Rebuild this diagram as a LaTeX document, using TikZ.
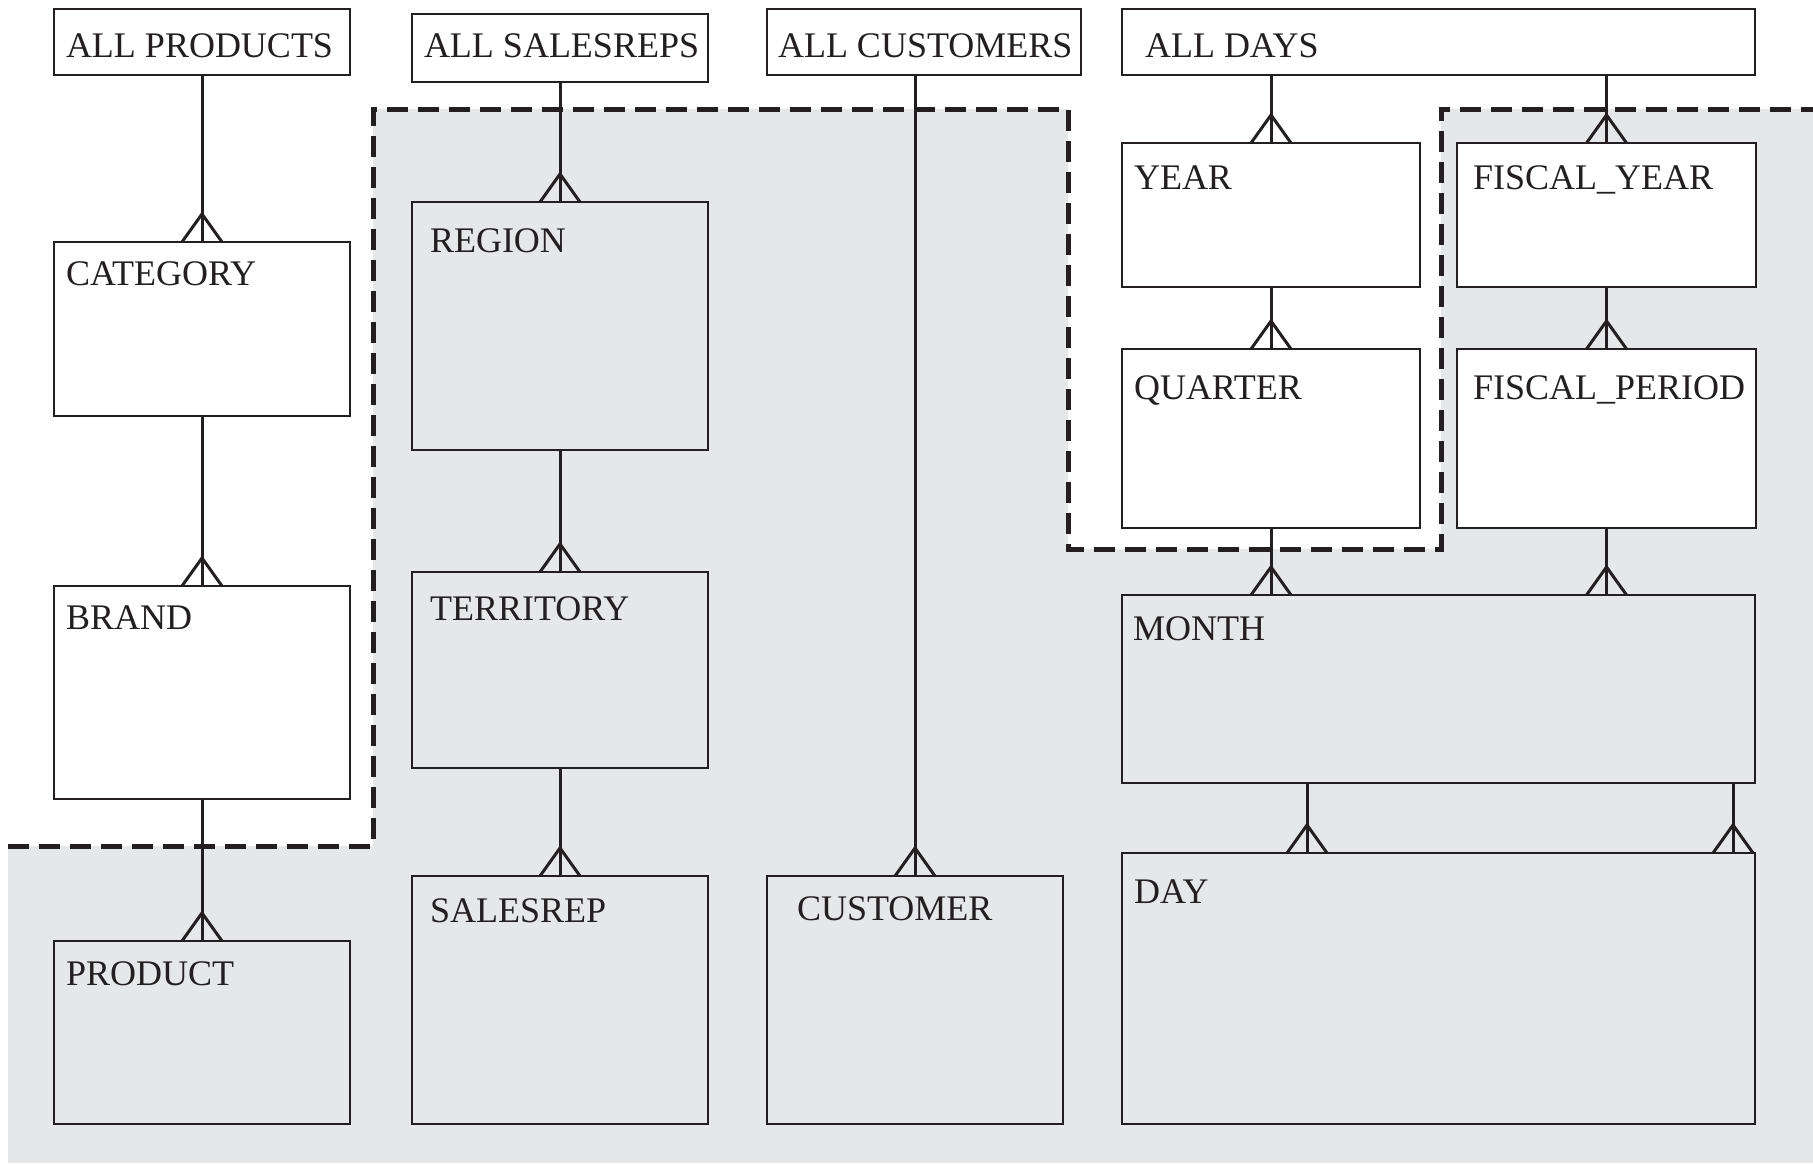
\documentclass[tikz,border=0pt]{standalone}
\usepackage{fontspec}
\setmainfont{Liberation Serif}
\usetikzlibrary{fit,calc}
\definecolor{ink}{RGB}{35,31,32}
\definecolor{greyfill}{RGB}{230,231,232}
\newcommand{\crowfoot}[1]{\draw[conn] ($#1+(-20,0)$) -- ($#1+(0,-28)$) -- ($#1+(20,0)$);}
\begin{document}
\begin{tikzpicture}[x=0.5pt,y=-0.5pt,
  box/.style={draw=ink, line width=1.2pt, inner sep=0pt, outer sep=0pt, rectangle},
  wbox/.style={box, fill=white},
  gbox/.style={box, fill=greyfill},
  lbl/.style={inner sep=0pt, outer sep=0pt, anchor=base west, text=ink, font=\fontsize{18}{20}\selectfont},
  conn/.style={draw=ink, line width=1.5pt},
  bound/.style={draw=ink, line width=2.5pt, dash pattern=on 10.5pt off 5pt}
]
\useasboundingbox (0,0) rectangle (1813,1163);
% shaded region
\fill[greyfill] (8,846) -- (373,846) -- (373,109) -- (1068,109) -- (1068,549) -- (1441,549) -- (1441,109) -- (1813,109) -- (1813,1163) -- (8,1163) -- cycle;
\draw[bound] (8,846) -- (373,846) -- (373,109) -- (1068,109) -- (1068,549) -- (1441,549) -- (1441,109) -- (1813,109);
% products
\node[wbox, fit={(54,9)(350,75)}] (allprod) {};
\node[lbl] (allprod-t) at (66,57) {ALL PRODUCTS};
\node[wbox, fit={(54,242)(350,416)}] (cat) {};
\node[lbl] (cat-t) at (66,285) {CATEGORY};
\node[wbox, fit={(54,586)(350,799)}] (brand) {};
\node[lbl] (brand-t) at (66,629) {BRAND};
\node[gbox, fit={(54,941)(350,1124)}] (prod) {};
\node[lbl] (prod-t) at (66,985) {PRODUCT};
% salesreps
\node[wbox, fit={(412,14)(708,82)}] (allsr) {};
\node[lbl] (allsr-t) at (424,57) {ALL SALESREPS};
\node[gbox, fit={(412,202)(708,450)}] (region) {};
\node[lbl] (region-t) at (430,252) {REGION};
\node[gbox, fit={(412,572)(708,768)}] (terr) {};
\node[lbl] (terr-t) at (430,620) {TERRITORY};
\node[gbox, fit={(412,876)(708,1124)}] (srep) {};
\node[lbl] (srep-t) at (430,922) {SALESREP};
% customers
\node[wbox, fit={(767,9)(1081,75)}] (allcust) {};
\node[lbl] (allcust-t) at (778,57) {ALL CUSTOMERS};
\node[gbox, fit={(767,876)(1063,1124)}] (cust) {};
\node[lbl] (cust-t) at (797,920) {CUSTOMER};
% days
\node[wbox, fit={(1122,9)(1755,75)}] (alldays) {};
\node[lbl] (alldays-t) at (1145,57) {ALL DAYS};
\node[wbox, fit={(1122,143)(1420,287)}] (year) {};
\node[lbl] (year-t) at (1134,189) {YEAR};
\node[wbox, fit={(1457,143)(1756,287)}] (fyear) {};
\node[lbl] (fyear-t) at (1473,189) {FISCAL\_YEAR};
\node[wbox, fit={(1122,349)(1420,528)}] (quarter) {};
\node[lbl] (quarter-t) at (1134,399) {QUARTER};
\node[wbox, fit={(1457,349)(1756,528)}] (fperiod) {};
\node[lbl] (fperiod-t) at (1473,399) {FISCAL\_PERIOD};
\node[gbox, fit={(1122,595)(1755,783)}] (month) {};
\node[lbl] (month-t) at (1133,640) {MONTH};
\node[gbox, fit={(1122,853)(1755,1124)}] (day) {};
\node[lbl] (day-t) at (1134,903) {DAY};
% connectors
\coordinate (d1) at (1307,0);
\coordinate (d2) at (1733,0);
\draw[conn] (allprod.south) -- (cat.north); \crowfoot{(cat.north)}
\draw[conn] (cat.south) -- (brand.north); \crowfoot{(brand.north)}
\draw[conn] (brand.south) -- (prod.north); \crowfoot{(prod.north)}
\draw[conn] (allsr.south) -- (region.north); \crowfoot{(region.north)}
\draw[conn] (region.south) -- (terr.north); \crowfoot{(terr.north)}
\draw[conn] (terr.south) -- (srep.north); \crowfoot{(srep.north)}
\draw[conn] (cust.north |- allcust.south) -- (cust.north); \crowfoot{(cust.north)}
\draw[conn] (year.north |- alldays.south) -- (year.north); \crowfoot{(year.north)}
\draw[conn] (fyear.north |- alldays.south) -- (fyear.north); \crowfoot{(fyear.north)}
\draw[conn] (year.south) -- (quarter.north); \crowfoot{(quarter.north)}
\draw[conn] (fyear.south) -- (fperiod.north); \crowfoot{(fperiod.north)}
\coordinate (mq) at (month.north -| quarter.south);
\coordinate (mf) at (month.north -| fperiod.south);
\draw[conn] (quarter.south) -- (mq); \crowfoot{(mq)}
\draw[conn] (fperiod.south) -- (mf); \crowfoot{(mf)}
\coordinate (m1a) at (month.south -| d1);
\coordinate (m1b) at (day.north -| d1);
\coordinate (m2a) at (month.south -| d2);
\coordinate (m2b) at (day.north -| d2);
\draw[conn] (m1a) -- (m1b); \crowfoot{(m1b)}
\draw[conn] (m2a) -- (m2b); \crowfoot{(m2b)}
\end{tikzpicture}
\end{document}
